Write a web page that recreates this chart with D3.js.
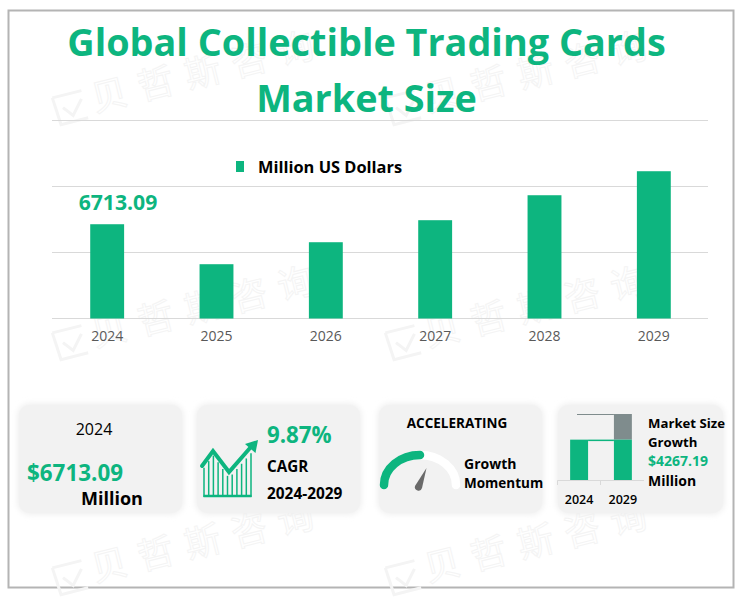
<!DOCTYPE html>
<html>
<head>
<meta charset="utf-8">
<script src="https://cdn.jsdelivr.net/npm/d3@7"></script>
<style>
html, body { margin: 0; padding: 0; background: #fff; }
text { font-family: "Open Sans", "Noto Sans", sans-serif; }
</style>
</head>
<body>
<svg id="chart" width="740" height="598"></svg>
<script>
var years = ['2024', '2025', '2026', '2027', '2028', '2029'];
var marketSize = [6713.09, 3866, 5432, 7000, 8778, 10488];
var gridTicks = [0, 4700, 9400, 14100];
var miniYears = ['2024', '2029'];
var miniBase = [6713.09, 6713.09];
var miniGrowth = [0, 4267.19];

var GREEN = '#0db57f';
var svg = d3.select('#chart');

var blur = svg.append('defs').append('filter').attr('id', 'soft')
    .attr('x', '-10%').attr('y', '-10%').attr('width', '120%').attr('height', '120%');
blur.append('feGaussianBlur').attr('stdDeviation', 3);

svg.append('rect').attr('x', 8.5).attr('y', 10.5).attr('width', 725).attr('height', 577)
    .attr('fill', '#fff').attr('stroke', '#b4b4b4').attr('stroke-width', 2);

// watermark
[0, 1, 2].forEach(function (row) {
    [0, 1].forEach(function (col) {
        var mark = svg.append('g')
            .attr('transform', 'translate(' + (95 + col * 333) + ',' + (112 + row * 235) + ') rotate(-14)')
            .attr('fill', 'none').attr('stroke', '#f4f4f4').attr('stroke-width', 1);
        mark.append('text').text('贝哲斯咨询')
            .style('font-family', '"Noto Sans CJK SC"')
            .attr('font-size', 36).attr('letter-spacing', 12);
        mark.append('path').attr('stroke-width', 3)
            .attr('d', 'M-38,-24 L-8,-24 M-38,-24 L-36,4 L-8,4 M-30,-12 L-22,-2 L-10,-16');
    });
});

function label(x, y, str, size, weight, fill, anchor) {
    return svg.append('text').attr('x', x).attr('y', y).text(str)
        .attr('font-size', size).attr('font-weight', weight)
        .attr('fill', fill).attr('text-anchor', anchor || 'start');
}

// title
label(366.5, 56, 'Global Collectible Trading Cards', 37.8, 700, GREEN, 'middle');
label(366.5, 112, 'Market Size', 37.8, 700, GREEN, 'middle');

// main chart
var x = d3.scaleBand().domain(years).range([52.5, 708.5]).paddingInner(0.69).paddingOuter(0.345);
var y = d3.scaleLinear().domain([0, 14100]).range([318.5, 120.5]);

svg.append('g').selectAll('line').data(gridTicks).enter().append('line')
    .attr('x1', 52).attr('x2', 708)
    .attr('y1', function (d) { return y(d); })
    .attr('y2', function (d) { return y(d); })
    .attr('stroke', '#d9d9d9').attr('stroke-width', 1);

svg.append('g').selectAll('rect').data(marketSize).enter().append('rect')
    .attr('x', function (d, i) { return x(years[i]); })
    .attr('y', function (d) { return y(d); })
    .attr('width', x.bandwidth())
    .attr('height', function (d) { return y(0) - y(d); })
    .attr('fill', GREEN);

var xAxis = svg.append('g').attr('transform', 'translate(0,318.5)')
    .call(d3.axisBottom(x).tickSize(0).tickPadding(13));
xAxis.select('.domain').remove();
xAxis.selectAll('text').attr('font-size', 14).attr('fill', '#595959')
    .style('font-family', '"Open Sans", sans-serif');

label(118, 210, '6713.09', 21.2, 700, GREEN, 'middle');

// legend
svg.append('rect').attr('x', 236).attr('y', 161).attr('width', 8).attr('height', 11).attr('fill', GREEN);
label(258, 173, 'Million US Dollars', 16.4, 700, '#000');

// cards
[[18, 165], [196, 165], [378, 165], [557, 167]].forEach(function (c) {
    svg.append('rect').attr('x', c[0]).attr('y', 404).attr('width', c[1]).attr('height', 110)
        .attr('rx', 12).attr('fill', '#ececec').attr('filter', 'url(#soft)');
    svg.append('rect').attr('x', c[0] + 1).attr('y', 405).attr('width', c[1] - 2).attr('height', 108)
        .attr('rx', 11).attr('fill', '#f2f2f2');
});

// card 1
label(94, 435, '2024', 16, 400, '#000', 'middle');
label(27, 481, '$6713.09', 22.4, 700, GREEN);
label(81, 505, 'Million', 18, 700, '#000');

// card 2
label(267, 443, '9.87%', 22.3, 700, GREEN);
label(267, 472, 'CAGR', 15.2, 700, '#000');
label(267, 499, '2024-2029', 15.4, 700, '#000');
var zig = d3.scaleLinear().domain([201, 213, 229, 252]).range([466, 449, 472, 446]);
var ic = svg.append('g').attr('fill', 'none').attr('stroke', GREEN);
ic.append('path').attr('stroke-width', 4).attr('stroke-linecap', 'round')
    .attr('d', d3.line()([[202, 466], [213, 451], [229, 472], [250, 448]]));
ic.append('path').attr('stroke', 'none').attr('fill', GREEN)
    .attr('d', 'M258,440 L255.5,453 L245,444 Z');
ic.append('path').attr('stroke-width', 2.5)
    .attr('d', 'M203.5,496 L251.5,496');
d3.range(11).forEach(function (i) {
    var vx = 204 + i * 4.7;
    ic.append('line').attr('x1', vx).attr('x2', vx)
        .attr('y1', 497).attr('y2', zig(vx) + 6)
        .attr('stroke-width', 1.5);
});

// card 3
label(457, 428, 'ACCELERATING', 13.5, 700, '#000', 'middle');
label(464, 469, 'Growth', 14, 700, '#000');
label(464, 488, 'Momentum', 13.5, 700, '#000');
var gauge = svg.append('g').attr('fill', 'none').attr('stroke-width', 8.5).attr('stroke-linecap', 'round');
gauge.append('path').attr('stroke', '#fff').attr('d', 'M384,485 A36,30 0 0 1 456,485');
gauge.append('path').attr('stroke', GREEN).attr('d', 'M384,485 A36,30 0 0 1 420,455');
svg.append('path').attr('fill', '#6a6a6a')
    .attr('d', 'M415,486 L426.5,468 L422,488 A3.6,3.6 0 0 1 415,486 Z');

// card 4
var mx = d3.scaleBand().domain(miniYears).range([557, 645]).paddingInner(0.59).paddingOuter(0.3);
var my = d3.scaleLinear().domain([0, 10980.28]).range([480, 414]);
svg.append('g').selectAll('rect').data(miniGrowth).enter().append('rect')
    .attr('x', function (d, i) { return mx(miniYears[i]); })
    .attr('y', function (d, i) { return my(miniBase[i] + d); })
    .attr('width', mx.bandwidth())
    .attr('height', function (d) { return my(0) - my(d); })
    .attr('fill', '#7f8c8d');
svg.append('g').selectAll('rect').data(miniBase).enter().append('rect')
    .attr('x', function (d, i) { return mx(miniYears[i]); })
    .attr('y', function (d) { return my(d); })
    .attr('width', mx.bandwidth())
    .attr('height', function (d) { return my(0) - my(d); })
    .attr('fill', GREEN);
svg.append('line').attr('x1', mx('2024') + mx.bandwidth()).attr('x2', mx('2029'))
    .attr('y1', my(miniBase[0]) + 0.7).attr('y2', my(miniBase[0]) + 0.7)
    .attr('stroke', GREEN).attr('stroke-width', 1.5);
svg.append('line').attr('x1', 577).attr('x2', mx('2029'))
    .attr('y1', my(miniBase[1] + miniGrowth[1]) + 0.5).attr('y2', my(miniBase[1] + miniGrowth[1]) + 0.5)
    .attr('stroke', '#7f8c8d').attr('stroke-width', 1);
svg.append('path').attr('fill', 'none').attr('stroke', '#d9d9d9')
    .attr('d', 'M557.5,485 L557.5,480.5 L644,480.5 M600.5,480.5 L600.5,485');
miniYears.forEach(function (yr) {
    label(mx(yr) + mx.bandwidth() / 2, 504, yr, 12.5, 600, '#000', 'middle');
});
label(648, 428, 'Market Size', 13.2, 700, '#000');
label(648, 447, 'Growth', 13.2, 700, '#000');
label(648, 466, '$4267.19', 14, 700, GREEN);
label(648, 486, 'Million', 14, 700, '#000');
</script>
</body>
</html>
